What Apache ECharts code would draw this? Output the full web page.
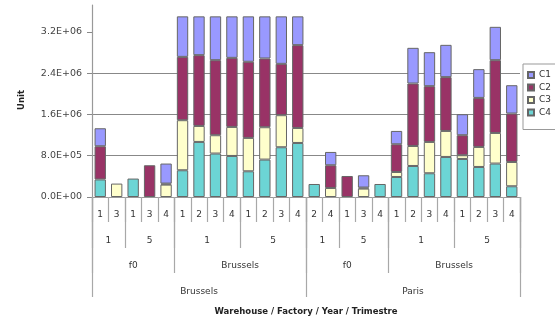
<!DOCTYPE html>
<html>
<head>
<meta charset="utf-8">
<script src="https://cdn.jsdelivr.net/npm/echarts@6/dist/echarts.min.js"></script>
<style>
  html, body { margin: 0; padding: 0; background: #fff; }
  #chart { width: 555px; height: 322px; }
</style>
</head>
<body>
<div id="chart"></div>
<script>
// Innermost level: trimester of each bar
const trimesters = ['1','3','1','3','4','1','2','3','4','1','2','3','4',
                    '2','4','1','3','4','1','2','3','4','1','2','3','4'];
// Outer levels: [label, number of bars in the group]
const years = [['1',2],['5',3],['1',4],['5',4],['1',2],['5',3],['1',4],['5',4]];
const factories = [['f0',5],['Brussels',8],['f0',5],['Brussels',8]];
const warehouses = [['Brussels',13],['Paris',13]];

const seriesNames = ['C1','C2','C3','C4'];
const c1 = [349000, null, null, null, 388000, 785000, 752000, 849000, 804000, 880000, 816000, 920000, 558000,
            null, 258000, null, 238000, null, 258000, 691000, 659000, 626000, 407000, 557000, 646000, 549000];
const c2 = [643000, null, null, 615000, 20000, 1227000, 1371000, 1454000, 1338000, 1475000, 1332000, 995000, 1604000,
            null, 440000, 407000, 20000, null, 537000, 1210000, 1080000, 1042000, 388000, 950000, 1410000, 938000];
const c3 = [null, 260000, null, null, 240000, 970000, 310000, 355000, 563000, 647000, 627000, 621000, 291000,
            null, 175000, null, 163000, null, 97000, 388000, 607000, 504000, 72000, 388000, 593000, 471000];
const c4 = [340000, null, 357000, null, null, 518000, 1067000, 842000, 795000, 498000, 725000, 964000, 1047000,
            252000, null, null, null, 252000, 388000, 601000, 460000, 776000, 737000, 582000, 648000, 208000];

// Value axis ticks
const yTickValues = [0, 800000, 1600000, 2400000, 3200000];
const yMax = 3720000;

const colors = { C1: '#9999FF', C2: '#993366', C3: '#FFFFCC', C4: '#6CD5D5' };

// A grouped level is drawn on a category axis with two slots per bar, so that
// group centres and group boundaries both fall on axis points.
function groupAxis(groups) {
  const n = trimesters.length * 2 + 1;
  const data = new Array(n).fill('');
  const bounds = new Set();
  let s = 0;
  groups.forEach(([label, count]) => {
    bounds.add(2 * s);
    data[2 * s + count] = label;
    s += count;
  });
  bounds.add(2 * s);
  return { data, bounds };
}

function sci(v) {
  if (v === 0) return '0.0E+00';
  const e = Math.floor(Math.log10(v) + 1e-9);
  const m = v / Math.pow(10, e);
  return m.toFixed(1) + 'E+' + String(e).padStart(2, '0');
}

const FONT = 'DejaVu Sans';
const sepColor = '#a8a8a8';

function levelAxis(groups, tickLen, margin, extra) {
  const g = groupAxis(groups);
  return Object.assign({
    type: 'category',
    position: 'bottom',
    gridIndex: 0,
    boundaryGap: false,
    data: g.data,
    axisLine: { show: false },
    axisTick: {
      show: true, length: tickLen,
      interval: (i) => g.bounds.has(i),
      lineStyle: { color: sepColor, width: 1.2 }
    },
    axisLabel: { interval: 0, margin: margin, fontFamily: FONT, fontSize: 9, color: '#333' },
    splitLine: { show: false }
  }, extra || {});
}

const stackOrder = [['C4', c4], ['C3', c3], ['C2', c2], ['C1', c1]];

const option = {
  animation: false,
  backgroundColor: '#fff',
  grid: { left: 92, right: 35, top: 5, bottom: 125, containLabel: false },
  legend: {
    data: seriesNames,
    orient: 'vertical',
    left: 523, top: 64,
    itemWidth: 6, itemHeight: 6,
    itemGap: 2.5,
    icon: 'rect',
    padding: [6, 30, 12, 4],
    backgroundColor: '#fff',
    borderColor: '#999', borderWidth: 1,
    textStyle: { fontFamily: FONT, fontSize: 9, color: '#333', lineHeight: 10 }
  },
  xAxis: [
    {
      type: 'category',
      position: 'bottom',
      data: trimesters,
      axisLine: { show: true, lineStyle: { color: '#999' } },
      axisTick: { show: true, interval: 0, length: 25, lineStyle: { color: sepColor, width: 1.2 } },
      axisLabel: { interval: 0, margin: 13, fontFamily: FONT, fontSize: 9, color: '#333' }
    },
    levelAxis(years, 51, 39),
    levelAxis(factories, 76, 64),
    levelAxis(warehouses, 100, 90, {
      name: 'Warehouse / Factory / Year / Trimestre',
      nameLocation: 'middle',
      nameGap: 110,
      nameTextStyle: { fontFamily: FONT, fontSize: 8.5, fontWeight: 'bold', color: '#222' }
    })
  ],
  yAxis: {
    type: 'value',
    min: 0, max: yMax, interval: yTickValues[1] - yTickValues[0],
    name: 'Unit',
    nameLocation: 'middle',
    nameGap: 66,
    nameRotate: 90,
    nameTextStyle: { fontFamily: FONT, fontSize: 8.5, fontWeight: 'bold', color: '#222', padding: [0, 0, 0, 2] },
    axisLine: { show: true, lineStyle: { color: '#999', width: 1.2 } },
    axisTick: { show: true, length: 5, customValues: yTickValues, lineStyle: { color: '#888' } },
    axisLabel: {
      margin: 10, fontFamily: FONT, fontSize: 9.5, color: '#444',
      customValues: yTickValues,
      formatter: (v) => sci(v)
    },
    splitLine: { show: true, showMaxLine: false, lineStyle: { color: '#888', width: 1 } }
  },
  series: stackOrder.map(([name, values]) => ({
    name: name,
    type: 'bar',
    stack: 'total',
    xAxisIndex: 0,
    barWidth: '69%',
    data: values,
    itemStyle: { color: colors[name], borderColor: '#666', borderWidth: 1 }
  }))
};

const chart = echarts.init(document.getElementById('chart'), null, { renderer: 'canvas' });
chart.setOption(option);
</script>
</body>
</html>
